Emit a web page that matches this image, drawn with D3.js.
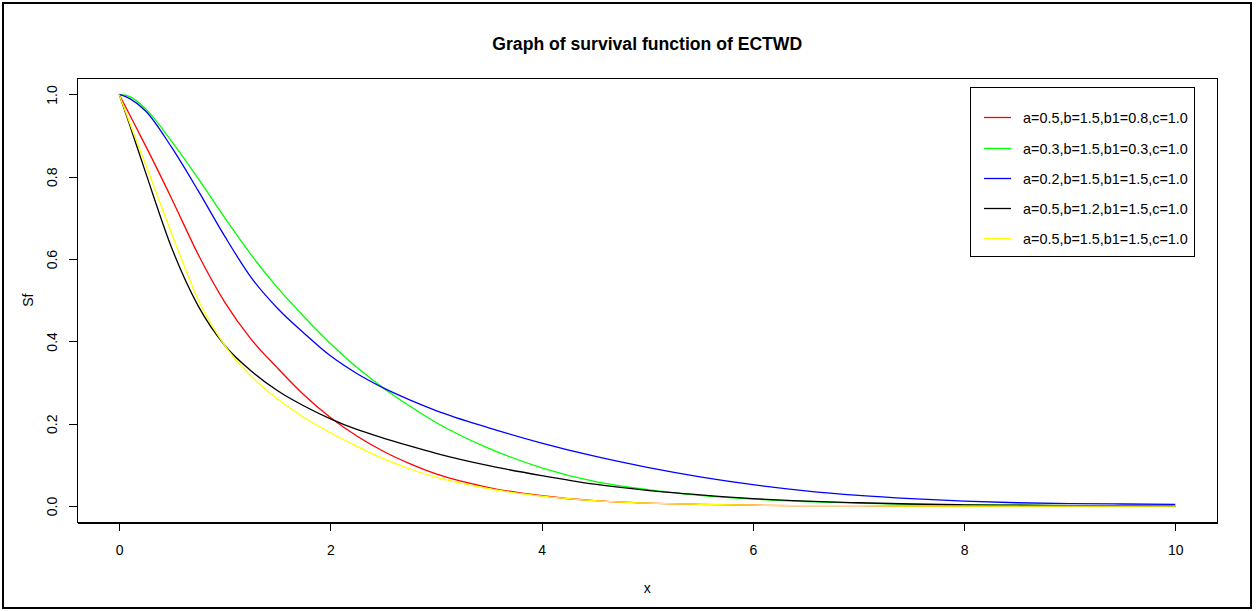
<!DOCTYPE html>
<html>
<head>
<meta charset="utf-8">
<script src="https://cdn.jsdelivr.net/npm/d3@7"></script>
<style>
  body { margin: 0; background: #fff; }
  svg { display: block; font-family: "Liberation Sans", Arial, sans-serif; }
</style>
</head>
<body>
<svg id="chart" width="1256" height="611"></svg>
<script>
// values
var xs     = [0, 0.1, 0.25, 0.5, 0.75, 1, 1.25, 1.5, 1.75, 2, 2.25, 2.5, 2.75, 3, 3.5, 4, 4.5, 5, 5.5, 6, 6.5, 7, 7.5, 8, 8.5, 9, 9.5, 10];
var red    = [1.0, 0.95, 0.875, 0.745, 0.61, 0.495, 0.405, 0.335, 0.27, 0.215, 0.17, 0.133, 0.103, 0.078, 0.045, 0.025, 0.013, 0.007, 0.004, 0.002, 0.001, 0.001, 0, 0, 0, 0, 0, 0];
var green  = [1.0, 0.995, 0.965, 0.885, 0.795, 0.70, 0.61, 0.53, 0.46, 0.395, 0.337, 0.287, 0.243, 0.203, 0.14, 0.093, 0.06, 0.04, 0.026, 0.017, 0.011, 0.007, 0.004, 0.003, 0.002, 0.001, 0.001, 0];
var blue   = [1.0, 0.99, 0.96, 0.87, 0.765, 0.655, 0.555, 0.48, 0.42, 0.365, 0.322, 0.287, 0.258, 0.232, 0.19, 0.153, 0.121, 0.094, 0.071, 0.052, 0.037, 0.026, 0.018, 0.012, 0.008, 0.006, 0.005, 0.004];
var black  = [1.0, 0.925, 0.81, 0.625, 0.485, 0.39, 0.328, 0.28, 0.243, 0.212, 0.186, 0.165, 0.146, 0.128, 0.098, 0.074, 0.053, 0.038, 0.027, 0.018, 0.012, 0.008, 0.005, 0.003, 0.002, 0.001, 0.001, 0];
var yellow = [1.0, 0.93, 0.83, 0.66, 0.50, 0.39, 0.315, 0.26, 0.215, 0.178, 0.145, 0.115, 0.09, 0.07, 0.042, 0.024, 0.013, 0.007, 0.004, 0.002, 0.001, 0.001, 0, 0, 0, 0, 0, 0];

var seriesNames  = ["a=0.5,b=1.5,b1=0.8,c=1.0", "a=0.3,b=1.5,b1=0.3,c=1.0", "a=0.2,b=1.5,b1=1.5,c=1.0", "a=0.5,b=1.2,b1=1.5,c=1.0", "a=0.5,b=1.5,b1=1.5,c=1.0"];
var seriesColors = ["#ff0000", "#00ff00", "#0000ff", "#000000", "#ffff00"];
var seriesValues = [red, green, blue, black, yellow];
var xTicks = [0, 2, 4, 6, 8, 10];
var yTicks = [0, 0.2, 0.4, 0.6, 0.8, 1.0];

var svg = d3.select("#chart");

// plot region (R style: 4% padding on each side of the data range)
var l_box = { left: 77, right: 1217.5, top: 78, bottom: 522.5 };
var x = d3.scaleLinear().domain([-0.4, 10.4]).range([l_box.left, l_box.right]);
var y = d3.scaleLinear().domain([-0.04, 1.04]).range([l_box.bottom, l_box.top]);

// outer frame
svg.append("rect")
    .attr("x", 3).attr("y", 3)
    .attr("width", 1248).attr("height", 605)
    .attr("fill", "none").attr("stroke", "#000").attr("stroke-width", 2);

// title
svg.append("text")
    .attr("x", (l_box.left + l_box.right) / 2).attr("y", 50)
    .attr("text-anchor", "middle")
    .style("font-size", "17.6px").style("font-weight", "bold")
    .text("Graph of survival function of ECTWD");

// curves
var line = d3.line()
    .x(function(d) { return x(d[0]); })
    .y(function(d) { return y(d[1]); })
    .curve(d3.curveMonotoneX);

seriesValues.forEach(function(vals, i) {
    svg.append("path")
        .datum(xs.map(function(v, k) { return [v, vals[k]]; }))
        .attr("fill", "none")
        .attr("stroke", seriesColors[i])
        .attr("stroke-width", 1.3)
        .attr("d", line);
});

// plot box
svg.append("rect")
    .attr("x", l_box.left).attr("y", l_box.top)
    .attr("width", l_box.right - l_box.left).attr("height", l_box.bottom - l_box.top)
    .attr("fill", "none").attr("stroke", "#000").attr("stroke-width", 1)
    .style("shape-rendering", "crispEdges");

// x axis
var l_xaxis = d3.axisBottom(x).tickValues(xTicks).tickSize(8).tickSizeOuter(0)
    .tickFormat(d3.format("d")).tickPadding(15);
svg.append("g")
    .attr("class", "axis")
    .attr("transform", "translate(0," + l_box.bottom + ")")
    .call(l_xaxis);

// y axis with rotated labels
var l_yaxis = d3.axisLeft(y).tickValues(yTicks).tickSize(8).tickSizeOuter(0)
    .tickFormat(d3.format(".1f"));
var l_yg = svg.append("g")
    .attr("class", "axis")
    .attr("transform", "translate(" + l_box.left + ",0)")
    .call(l_yaxis);
l_yg.selectAll(".tick text")
    .attr("x", null).attr("dy", null)
    .attr("text-anchor", "middle")
    .attr("transform", "translate(-20,0) rotate(-90)");

svg.selectAll(".axis path, .axis line")
    .attr("stroke", "#000")
    .style("shape-rendering", "crispEdges");
svg.selectAll(".axis text")
    .attr("fill", "#000")
    .style("font-size", "14px")
    .style("font-family", "'Liberation Sans', Arial, sans-serif");

// axis titles
svg.append("text")
    .attr("x", (l_box.left + l_box.right) / 2).attr("y", 593)
    .attr("text-anchor", "middle")
    .style("font-size", "14px")
    .text("x");
svg.append("text")
    .attr("transform", "translate(33," + (l_box.top + l_box.bottom) / 2 + ") rotate(-90)")
    .attr("text-anchor", "middle")
    .style("font-size", "14px")
    .text("Sf");

// legend
var l_legendY = [117.5, 148.5, 178.5, 208.5, 238.5];
var l_legend = svg.append("g");
l_legend.append("rect")
    .attr("x", 970).attr("y", 87)
    .attr("width", 224).attr("height", 169)
    .attr("fill", "#fff").attr("stroke", "#000")
    .style("shape-rendering", "crispEdges");
seriesNames.forEach(function(name, i) {
    l_legend.append("line")
        .attr("x1", 984).attr("x2", 1011)
        .attr("y1", l_legendY[i]).attr("y2", l_legendY[i])
        .attr("stroke", seriesColors[i]).attr("stroke-width", 1.3);
    l_legend.append("text")
        .attr("x", 1023).attr("y", l_legendY[i] + 5)
        .style("font-size", "14.4px")
        .text(name);
});
</script>
</body>
</html>
